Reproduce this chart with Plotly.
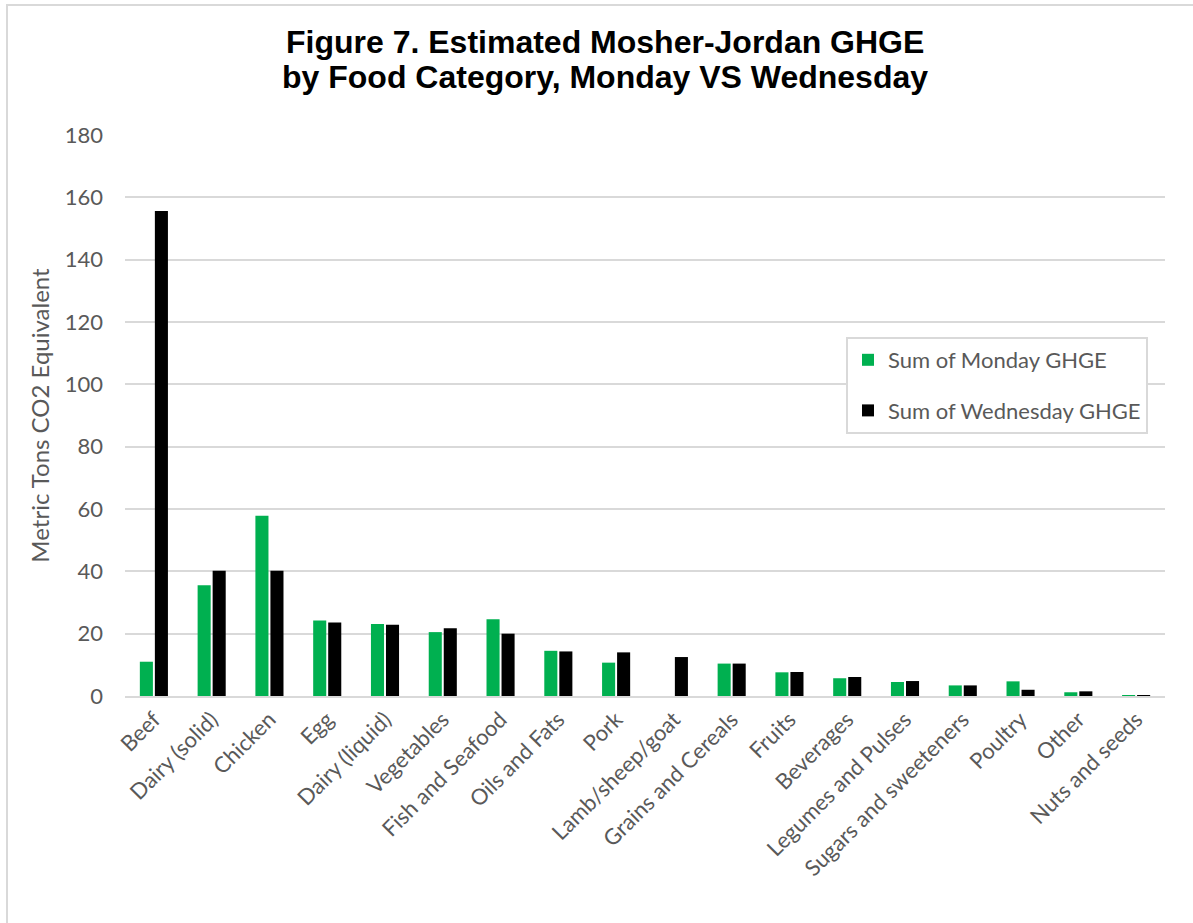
import plotly.graph_objects as go

categories = ["Beef", "Dairy (solid)", "Chicken", "Egg", "Dairy (liquid)", "Vegetables",
              "Fish and Seafood", "Oils and Fats", "Pork", "Lamb/sheep/goat",
              "Grains and Cereals", "Fruits", "Beverages", "Legumes and Pulses",
              "Sugars and sweeteners", "Poultry", "Other", "Nuts and seeds"]
monday = [11.0, 35.5, 57.8, 24.2, 23.1, 20.5, 24.6, 14.5, 10.7, 0.0,
          10.4, 7.6, 5.7, 4.5, 3.4, 4.7, 1.2, 0.2]
wednesday = [155.6, 40.2, 40.2, 23.6, 22.9, 21.7, 20.0, 14.3, 14.0, 12.5,
             10.4, 7.7, 6.1, 4.8, 3.4, 2.0, 1.5, 0.2]
y_ticks = [0, 20, 40, 60, 80, 100, 120, 140, 160, 180]
title_lines = ["Figure 7. Estimated Mosher-Jordan GHGE",
               "by Food Category, Monday VS Wednesday"]

W, H = 1193, 923
L, R, T, B = 125, 28, 135, 227
FONT = "Lato, Calibri, sans-serif"
GRAY = "#595959"

fig = go.Figure()
fig.add_trace(go.Bar(x=categories, y=monday, name="Sum of Monday GHGE",
                     marker=dict(color="#00B050", line=dict(width=0)),
                     legendgroup="a"))
fig.add_trace(go.Bar(x=categories, y=wednesday, name="Sum of Wednesday GHGE",
                     marker=dict(color="#000000", line=dict(width=0)),
                     legendgroup="b"))

pw, ph = W - L - R, H - T - B
def px_x(p):
    return (p - L) / pw
def px_y(p):
    return (H - B - p) / ph

fig.add_shape(type="rect", xref="paper", yref="paper",
              x0=px_x(7), x1=px_x(1210), y0=px_y(5), y1=px_y(940),
              line=dict(color="#D9D9D9", width=2), fillcolor="rgba(0,0,0,0)", layer="below")

for txt, yc in zip(title_lines, [42, 77]):
    fig.add_annotation(text="<b>%s</b>" % txt, xref="paper", yref="paper",
                       x=px_x(605), y=px_y(yc), xanchor="center", yanchor="middle",
                       showarrow=False,
                       font=dict(family="Liberation Sans, Arial, sans-serif", size=32, color="black"))

fig.update_layout(
    width=W, height=H,
    margin=dict(l=L, r=R, t=T, b=B),
    paper_bgcolor="white", plot_bgcolor="white",
    barmode="group", bargap=0.48, bargroupgap=0.13,
    font=dict(family=FONT, size=22, color=GRAY),
    legend=dict(x=px_x(846), y=px_y(337), xanchor="left", yanchor="top",
                xref="paper", yref="paper",
                bgcolor="white", bordercolor="#D9D9D9", borderwidth=2,
                font=dict(family=FONT, size=22, color=GRAY),
                traceorder="grouped", tracegroupgap=19, itemwidth=30),
    xaxis=dict(tickangle=-45, showgrid=False, showline=True, linecolor="#D9D9D9", linewidth=2,
               tickfont=dict(family=FONT, size=22, color=GRAY), ticks=""),
    yaxis=dict(range=[0, 180], tickvals=y_ticks, showgrid=True, gridcolor="#D9D9D9", gridwidth=1.5,
               zeroline=False, showline=False, ticks="", ticklabelstandoff=21,
               tickfont=dict(family=FONT, size=22, color=GRAY),
               title=dict(text="Metric Tons CO2 Equivalent", standoff=8,
                          font=dict(family=FONT, size=24, color=GRAY))),
)

fig.write_html("out.html")
